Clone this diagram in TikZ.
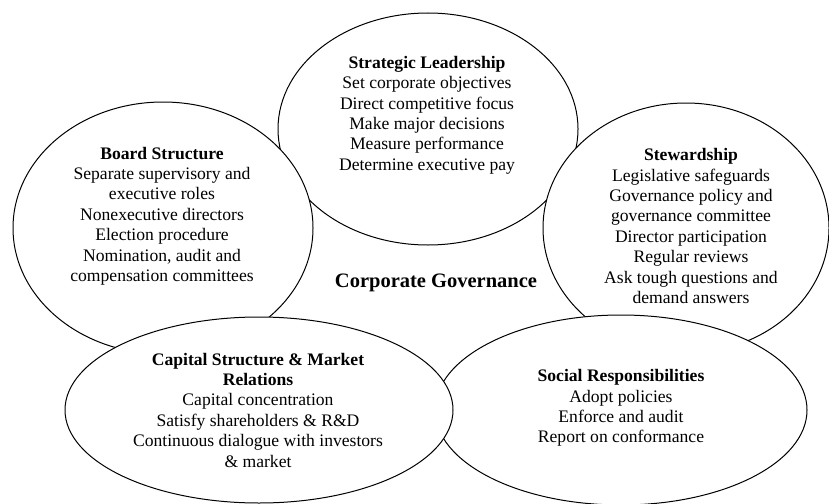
\documentclass[tikz,border=0pt]{standalone}
\usepackage{fontspec}
\setmainfont{Liberation Serif}
\usetikzlibrary{shapes.geometric}
\begin{document}
\begin{tikzpicture}[x=1pt,y=-1pt,
  blob/.style={ellipse, draw=black, line width=1pt, fill=white, inner sep=0pt, outer sep=0pt},
  txt/.style={align=center, font=\fontsize{17.6}{20.4}\selectfont, inner sep=0pt, text=black},
  ttl/.style={align=center, font=\fontsize{20.5}{24}\selectfont\bfseries, inner sep=0pt, text=black}]
\useasboundingbox (0,0) rectangle (829,503);
\node[blob, minimum width=300pt, minimum height=232pt] (strat) at (428,129) {};
\node[blob, minimum width=300pt, minimum height=252pt] (board) at (163,228) {};
\node[blob, minimum width=286pt, minimum height=250pt] (stew) at (686,228) {};
\node[blob, minimum width=372pt, minimum height=190pt] (social) at (621,410) {};
\node[blob, minimum width=388pt, minimum height=186pt] (capital) at (259,410) {};

\node[txt] (tstrat) at (427,115) {\textbf{Strategic Leadership}\\Set corporate objectives\\Direct competitive focus\\Make major decisions\\Measure performance\\Determine executive pay};
\node[txt] (tboard) at (162,216) {\textbf{Board Structure}\\Separate supervisory and\\executive roles\\Nonexecutive directors\\Election procedure\\Nomination, audit and\\compensation committees};
\node[txt] (tstew) at (691,226) {\textbf{Stewardship}\\Legislative safeguards\\Governance policy and\\governance committee\\Director participation\\Regular reviews\\Ask tough questions and\\demand answers};
\node[txt] (tcap) at (258,410) {\textbf{Capital Structure \& Market}\\\textbf{Relations}\\Capital concentration\\Satisfy shareholders \& R\&D\\Continuous dialogue with investors\\\& market};
\node[txt] (tsoc) at (621,408) {\textbf{Social Responsibilities}\\Adopt policies\\Enforce and audit\\Report on conformance};
\node[ttl] (cg) at (436,283) {Corporate Governance};
\end{tikzpicture}
\end{document}
